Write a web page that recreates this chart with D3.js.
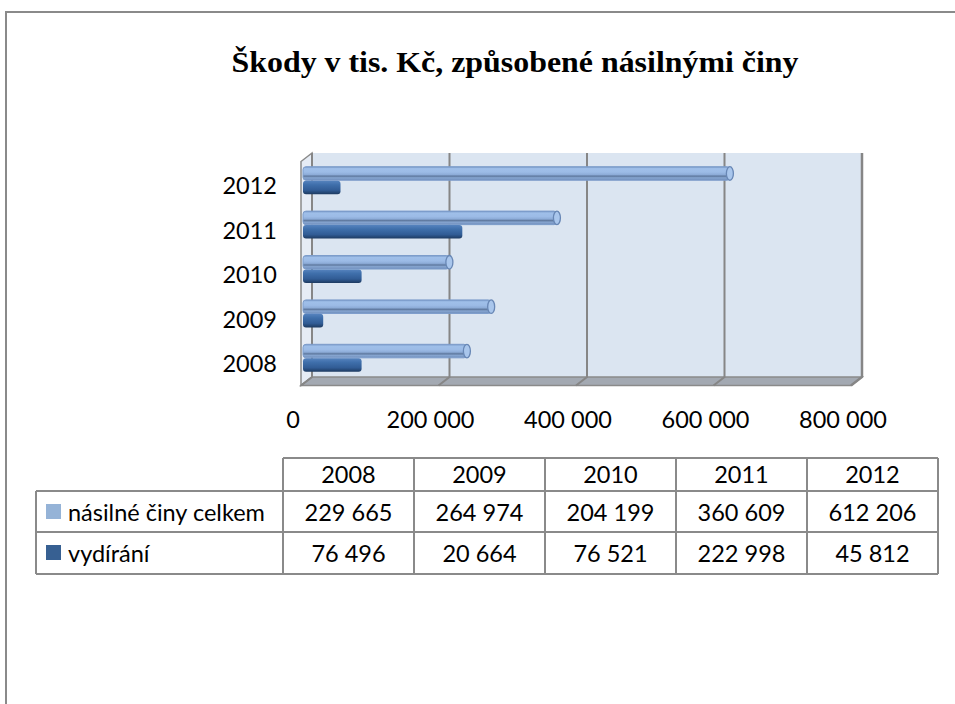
<!DOCTYPE html>
<meta charset="utf-8">
<head>
<script type="text/javascript" src="https://cdn.jsdelivr.net/npm/d3@7/dist/d3.min.js"></script>
<style>
	body { margin: 0; background: #fff; }
	.lbl { font-family: Lato, "Open Sans", sans-serif; font-size: 23.5px; fill: #000; }
</style>
</head>
<body>
<script>

// data
var years = ["2008", "2009", "2010", "2011", "2012"];
var seriesNames = ["násilné činy celkem", "vydírání"];
var celkem = [229665, 264974, 204199, 360609, 612206];
var vydirani = [76496, 20664, 76521, 222998, 45812];
var xTicks = [0, 200000, 400000, 600000, 800000];
var seriesColors = ["#95b3d7", "#376092"];

var width = 955, height = 704;

var svg = d3.select("body").append("svg")
	.attr("width", width)
	.attr("height", height);

var cz = d3.formatLocale({decimal: ",", thousands: " ", grouping: [3], currency: ["", " Kč"]});
var fmt = cz.format(",d");

// gradients for the cylinder look
var defs = svg.append("defs");
function grad(id, stops) {
	var g = defs.append("linearGradient").attr("id", id)
		.attr("x1", 0).attr("y1", 0).attr("x2", 0).attr("y2", 1);
	stops.forEach(function(s){ g.append("stop").attr("offset", s[0]).attr("stop-color", s[1]); });
}
grad("gLight", [[0, "#7393c2"], [0.14, "#9fbfe9"], [0.4, "#9cbbe6"], [0.58, "#8dacd8"], [0.7, "#5f799f"], [0.82, "#86a5d0"], [1, "#6f8dbb"]]);
grad("gDark", [[0, "#5683be"], [0.3, "#3f6fab"], [0.7, "#315c95"], [1, "#1d3a60"]]);

// outer frame
svg.append("path")
	.attr("d", "M6,704V12H955")
	.attr("fill", "none")
	.attr("stroke", "#8a8a8a")
	.attr("stroke-width", 2);

// title
svg.append("text")
	.attr("x", 515)
	.attr("y", 72)
	.attr("text-anchor", "middle")
	.attr("textLength", 567)
	.attr("lengthAdjust", "spacingAndGlyphs")
	.style("font-family", "'Liberation Serif', 'Times New Roman', serif")
	.style("font-weight", "bold")
	.style("font-size", "30px")
	.text("Škody v tis. Kč, způsobené násilnými činy");

// 3d box
var wallTop = 153, wallBottom = 377;
var dx = -11, dy = 8.5;
var xGrid = d3.scaleLinear().domain([0, 800000]).range([312, 862]);
var xBar = d3.scaleLinear().domain([0, 800000]).range([309, 859]);
var y = d3.scaleBand().domain(years.slice().reverse()).range([159, 381]);
var ySub = d3.scaleBand().domain(seriesNames).range([-14.5, 13]).paddingInner(0.03);

var box = svg.append("g");

box.append("rect")
	.attr("x", xGrid(0)).attr("y", wallTop)
	.attr("width", xGrid(800000) - xGrid(0))
	.attr("height", wallBottom - wallTop)
	.attr("fill", "#dbe5f1");

// left wall
box.append("path")
	.attr("d", "M" + xGrid(0) + "," + wallTop + "L" + (xGrid(0) + dx) + "," + (wallTop + dy) +
		"L" + (xGrid(0) + dx) + "," + (wallBottom + dy) + "L" + xGrid(0) + "," + wallBottom + "Z")
	.attr("fill", "#e6ecf5")
	.attr("stroke", "#8a8a8a")
	.attr("stroke-width", 1.5);

// floor
box.append("path")
	.attr("d", "M" + xGrid(0) + "," + wallBottom + "L" + xGrid(800000) + "," + wallBottom +
		"L" + (xGrid(800000) + dx) + "," + (wallBottom + dy) + "L" + (xGrid(0) + dx) + "," + (wallBottom + dy) + "Z")
	.attr("fill", "#a3a9b2")
	.attr("stroke", "#8a8a8a")
	.attr("stroke-width", 1.5);

// gridlines on wall and floor
box.selectAll(".grid").data(xTicks).enter().append("path")
	.attr("class", "grid")
	.attr("d", function(d){
		return "M" + xGrid(d) + "," + wallTop + "V" + wallBottom + "l" + dx + "," + dy;
	})
	.attr("fill", "none")
	.attr("stroke", "#868686")
	.attr("stroke-width", function(d){ return d == 800000 ? 2.5 : 2; });

// bars
var bars = svg.append("g");
var rows = years.map(function(yr, i){ return {year: yr, vals: [celkem[i], vydirani[i]]}; });

rows.forEach(function(r){
	var cy = y(r.year) + y.bandwidth() / 2;
	// light cylinder
	var y0 = cy + ySub(seriesNames[0]), h0 = ySub.bandwidth();
	bars.append("rect")
		.attr("x", 303).attr("y", y0)
		.attr("width", xBar(r.vals[0]) - 303)
		.attr("height", h0)
		.attr("rx", 3)
		.attr("fill", "url(#gLight)")
		.attr("stroke", "#7d9dcb")
		.attr("stroke-width", 1);
	bars.append("ellipse")
		.attr("cx", xBar(r.vals[0]))
		.attr("cy", y0 + h0 / 2)
		.attr("rx", 3.5).attr("ry", h0 / 2)
		.attr("fill", "#a9c6ec")
		.attr("stroke", "#6887b5")
		.attr("stroke-width", 1.3);
	// dark bar
	var y1 = cy + ySub(seriesNames[1]), h1 = ySub.bandwidth();
	bars.append("rect")
		.attr("x", 303).attr("y", y1)
		.attr("width", xBar(r.vals[1]) - 303)
		.attr("height", h1)
		.attr("rx", 3)
		.attr("fill", "url(#gDark)");
});

// category labels
svg.selectAll(".ylab").data(years).enter().append("text")
	.attr("class", "lbl")
	.attr("x", 277)
	.attr("y", function(d){ return y(d) + y.bandwidth() / 2 + 5; })
	.attr("dy", "0.35em")
	.attr("text-anchor", "end")
	.text(function(d){ return d; });

// value axis labels
var xLab = d3.scaleLinear().domain([0, 800000]).range([xGrid(0) - 19.5, xGrid(800000) - 19.5]);
var xAxis = svg.append("g")
	.attr("transform", "translate(0,411)")
	.call(d3.axisBottom(xLab).tickValues(xTicks).tickSize(0).tickPadding(0).tickFormat(fmt));
xAxis.select(".domain").remove();
xAxis.selectAll("text").attr("class", "lbl").attr("fill", null);

// data table
var colX = d3.scaleBand().domain(years).range([283, 938]);
var rowY = [458, 491, 532, 574];
var tbl = svg.append("g");
var line = function(x1, y1, x2, y2){
	tbl.append("line").attr("x1", x1).attr("y1", y1).attr("x2", x2).attr("y2", y2)
		.attr("stroke", "#8a8a8a").attr("stroke-width", 2);
};
line(283, rowY[0], 938, rowY[0]);
line(36, rowY[1], 938, rowY[1]);
line(36, rowY[2], 938, rowY[2]);
line(36, rowY[3], 938, rowY[3]);
line(36, rowY[1], 36, rowY[3]);
years.forEach(function(yr){ line(colX(yr), rowY[0], colX(yr), rowY[3]); });
line(938, rowY[0], 938, rowY[3]);

tbl.selectAll(".hd").data(years).enter().append("text")
	.attr("class", "lbl")
	.attr("x", function(d){ return colX(d) + colX.bandwidth() / 2; })
	.attr("y", 483)
	.attr("text-anchor", "middle")
	.text(function(d){ return d; });

var rowBase = [520.5, 561.5];
[celkem, vydirani].forEach(function(vals, k){
	tbl.append("rect")
		.attr("x", 46).attr("y", rowBase[k] - 16.5)
		.attr("width", 15).attr("height", 15)
		.attr("fill", seriesColors[k]);
	tbl.append("text")
		.attr("class", "lbl")
		.attr("x", 68).attr("y", rowBase[k])
		.text(seriesNames[k]);
	tbl.selectAll(".v" + k).data(vals).enter().append("text")
		.attr("class", "lbl")
		.attr("x", function(d, i){ return colX(years[i]) + colX.bandwidth() / 2; })
		.attr("y", rowBase[k])
		.attr("text-anchor", "middle")
		.text(function(d){ return fmt(d); });
});

</script>
</body>
</html>
